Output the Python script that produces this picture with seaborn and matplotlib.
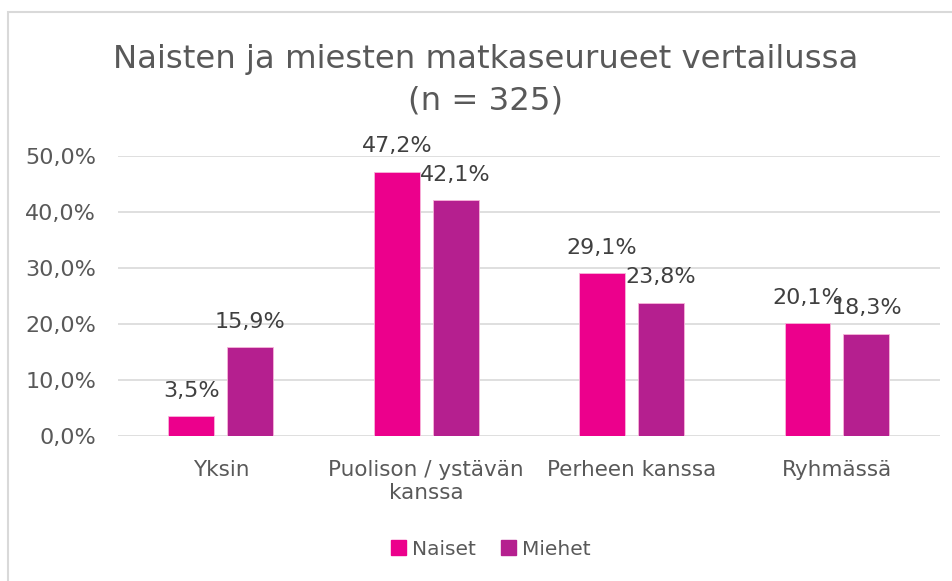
import pandas as pd
import matplotlib.pyplot as plt
import matplotlib.patches as mpatches
import seaborn as sns

# Data
categories = ['Yksin', 'Puolison / ystävän\nkanssa', 'Perheen kanssa', 'Ryhmässä']
naiset = [3.5, 47.2, 29.1, 20.1]
miehet = [15.9, 42.1, 23.8, 18.3]
series = ['Naiset', 'Miehet']
colors = ['#EC008C', '#B51F8F']

df = pd.DataFrame({
    'kategoria': categories * 2,
    'osuus': naiset + miehet,
    'sukupuoli': ['Naiset'] * 4 + ['Miehet'] * 4,
})

sns.set_theme(style="white")
plt.rcParams['font.family'] = ['DejaVu Sans']
text_color = '#595959'

fig = plt.figure(figsize=(9.53, 5.81), dpi=100)
ax = fig.add_axes([0.124, 0.2496, 0.862, 0.4819])

sns.barplot(data=df, x='kategoria', y='osuus', hue='sukupuoli', hue_order=series,
            palette=colors, width=0.574, gap=0.22, saturation=1, ax=ax,
            edgecolor='#F7B5DA', linewidth=0.6, legend=False)

ax.set_ylim(0, 50)
ax.set_xlim(-0.5, 3.5)
ax.set_yticks([0, 10, 20, 30, 40, 50])
ax.set_yticklabels([f'{v:.1f}%'.replace('.', ',') for v in [0, 10, 20, 30, 40, 50]],
                   fontsize=16, color=text_color)
ax.tick_params(axis='x', labelsize=15.5, labelcolor=text_color, length=0, pad=17)
ax.tick_params(axis='y', length=0, pad=16)
ax.yaxis.grid(True, color='#D9D9D9', linewidth=1.2)
ax.set_axisbelow(True)
for s in ax.spines.values():
    s.set_visible(False)
ax.set_xlabel('')
ax.set_ylabel('')

for cont in ax.containers:
    labels = [f'{b.get_height():.1f}%'.replace('.', ',') for b in cont]
    ax.bar_label(cont, labels=labels, padding=11, fontsize=16, color='#404040', clip_on=False)

fig.text(0.51, 0.862, 'Naisten ja miesten matkaseurueet vertailussa\n(n = 325)',
         ha='center', va='center', fontsize=23.3, color=text_color, linespacing=1.42)

handles = [mpatches.Patch(color=c, label=l) for c, l in zip(colors, series)]
fig.legend(handles=handles, loc='center', bbox_to_anchor=(0.515, 0.055), ncol=2,
           frameon=False, fontsize=14.5, labelcolor=text_color, handlelength=0.75,
           handleheight=0.75, handletextpad=0.3, columnspacing=1.2)

# outer chart border
fig.patches.append(mpatches.Rectangle((0.008, -0.1), 1.1, 1.08, transform=fig.transFigure,
                                      fill=False, edgecolor='#D9D9D9', linewidth=1.5))

plt.savefig('out.png', dpi=100)
plt.close()
